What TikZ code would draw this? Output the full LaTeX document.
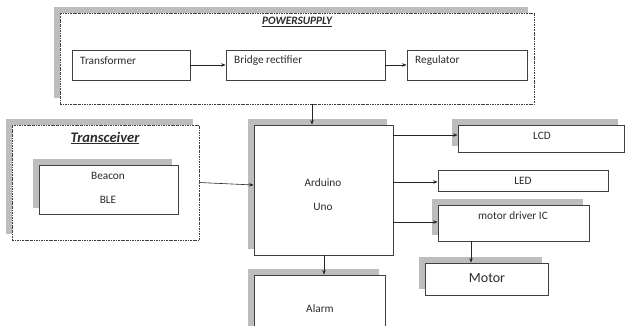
\documentclass[tikz,border=0pt]{standalone}
\usepackage{fontspec}
\setmainfont{Carlito}
\usetikzlibrary{fit,shadows,arrows.meta}
\definecolor{lineg}{HTML}{404040}
\definecolor{txtg}{HTML}{2B2B2B}
\definecolor{shadg}{HTML}{BDBDBD}
\begin{document}
\begin{tikzpicture}[x=1pt,y=-1pt,
  box/.style={draw=lineg, line width=0.8pt, fill=white, inner sep=0pt},
  shad/.style={drop shadow={shadow xshift=-6pt, shadow yshift=6pt, fill=shadg, opacity=1}},
  grp/.style={draw=lineg, line width=0.6pt, fill=white, inner sep=0pt,
     dash pattern=on 2.2pt off 1pt on 0.6pt off 1pt},
  lbl/.style={font=\fontsize{11.3}{13}\selectfont, text=txtg, inner sep=0pt},
  lbll/.style={lbl, anchor=west},
  conn/.style={draw=black!85, line width=0.6pt, -{Stealth[length=4.5pt,width=3.5pt]}}
]
\useasboundingbox[fill=white] (0,0) rectangle (625,325);

% Power supply group
\node[grp, shad, fit={(60,13) (534,104)}] (ps) {};
\node[font=\fontsize{11.3}{13}\selectfont\bfseries\itshape, text=txtg, inner sep=0pt] (pstitle) at (297,22) {\underline{POWERSUPPLY}};
\node[box, fit={(72,50) (190,80)}] (tr) {};
\node[lbll] (trt) at (80,61) {Transformer};
\node[box, fit={(226,50) (385,80)}] (br) {};
\node[lbll] (brt) at (234,61) {Bridge rectifier};
\node[box, fit={(407,50) (527,80)}] (rg) {};
\node[lbll] (rgt) at (415,61) {Regulator};
\draw[conn] (tr) -- (br);
\draw[conn] (br) -- (rg);

% Transceiver group
\node[grp, shad, fit={(12,125) (199,240)}] (tc) {};
\node[font=\fontsize{14.6}{16}\selectfont\bfseries\itshape, text=txtg, inner sep=0pt] (tctitle) at (105,138) {\underline{Transceiver}};
\node[box, shad, fit={(39,165) (178,214)}] (bc) {};
\node[lbl] (bct1) at (108,176) {Beacon};
\node[lbl] (bct2) at (108,200) {BLE};

% Arduino
\node[box, shad, fit={(254,125) (393,255)}] (ard) {};
\node[lbl] (ardt1) at (323,183) {Arduino};
\node[lbl] (ardt2) at (323,207) {Uno};

% Alarm
\node[box, shad, fit={(254,275) (385,340)}] (al) {};
\node[lbl] (alt) at (320,309) {Alarm};

% LCD
\node[box, shad, fit={(458,125) (624,152)}] (lcd) {};
\node[lbl] (lcdt) at (542,136) {LCD};

% LED
\node[box, fit={(438,170) (608,191)}] (led) {};
\node[lbl] (ledt) at (523,181) {LED};

% Motor driver
\node[box, shad, fit={(438,205) (589,241)}] (md) {};
\node[lbl] (mdt) at (513,216) {motor driver IC};

% Motor
\node[box, shad, fit={(425,263) (548,295)}] (mo) {};
\node[font=\fontsize{14}{16}\selectfont, text=txtg, inner sep=0pt] (mot) at (487,278) {Motor};

% connectors
\draw[conn] (ps.south -| 312,0) -- (ard.north -| 312,0);
\draw[conn] (tc.east) -- (ard.west |- 0,185);
\draw[conn] (ard.south -| 324,0) -- (al.north -| 324,0);
\draw[conn] (ard.east |- 0,135) -- (lcd.west |- 0,135);
\draw[conn] (ard.east |- 0,182) -- (led.west |- 0,182);
\draw[conn] (ard.east |- 0,222) -- (md.west |- 0,222);
\draw[conn] (md.south -| 471,0) -- (mo.north -| 471,0);
\end{tikzpicture}
\end{document}
